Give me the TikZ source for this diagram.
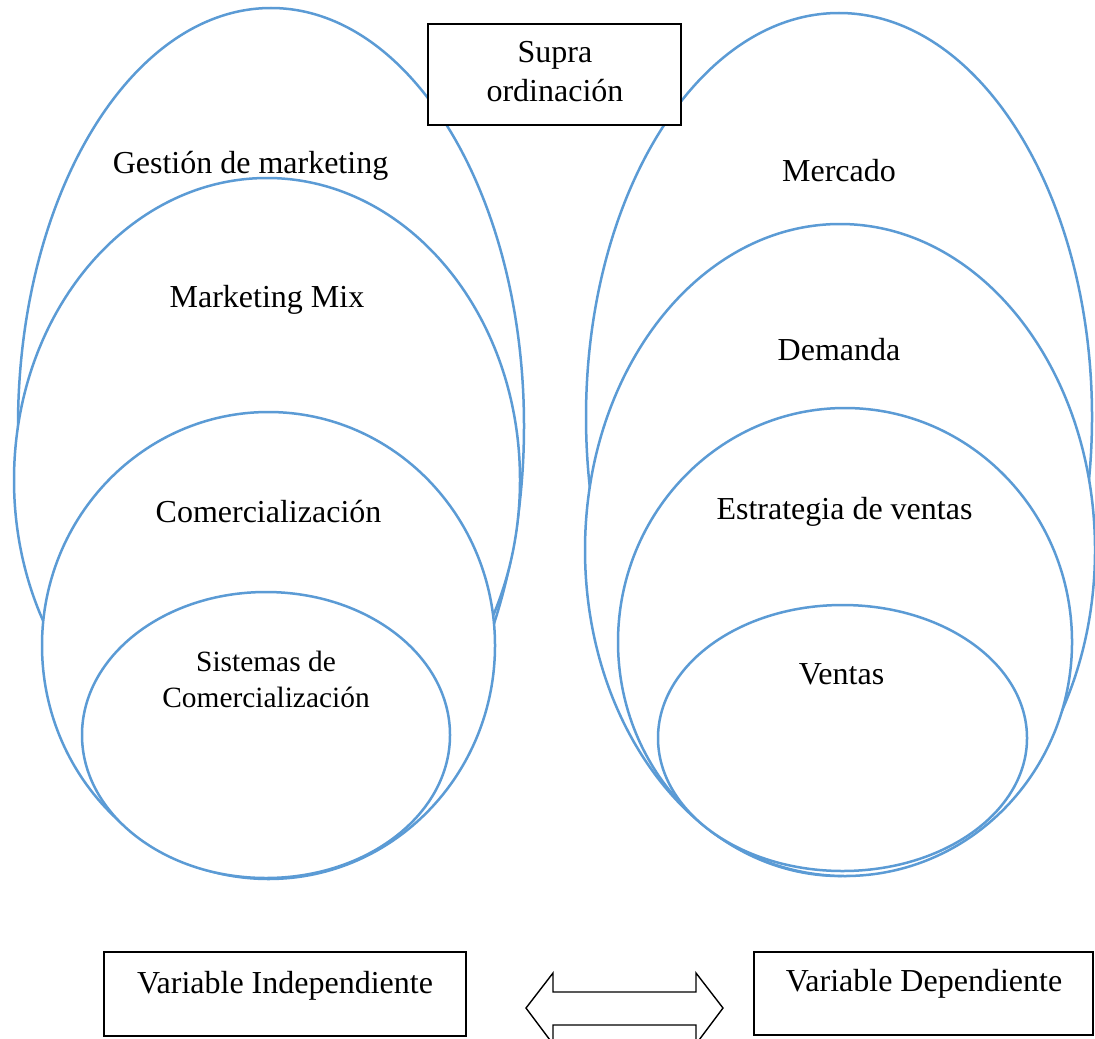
\documentclass[tikz,border=0pt]{standalone}
\usepackage{fontspec}
\setmainfont{Liberation Serif}
\definecolor{ringblue}{HTML}{5B9BD5}
\begin{document}
\begin{tikzpicture}[x=0.5pt,y=-0.5pt,
  ring/.style={draw=ringblue,line width=1.25pt,fill=white},
  lbl/.style={anchor=base,inner sep=0pt,font=\fontsize{16}{20}\selectfont},
  smalllbl/.style={anchor=base,inner sep=0pt,font=\fontsize{14.7}{18}\selectfont},
  frame/.style={draw=black,line width=1pt,fill=white,inner sep=0pt},
  twoway/.style={draw=black,line width=0.7pt,fill=white,line join=miter}]
\useasboundingbox (0,0) rectangle (1095,1038);
\clip (0,0) rectangle (1095,1038);

% independent variable: nested rings, outermost first
\draw[ring] (271,426) ellipse [x radius=253, y radius=418];
\draw[ring] (267,480) ellipse [x radius=253, y radius=302];
\draw[ring] (268.5,645.5) ellipse [x radius=226.5, y radius=233.5];
\draw[ring] (266,735) ellipse [x radius=184, y radius=143];

% dependent variable: nested rings, outermost first
\draw[ring] (839,417) ellipse [x radius=253, y radius=404];
\draw[ring] (840,550) ellipse [x radius=255, y radius=326];
\draw[ring] (845,642) ellipse [x radius=227, y radius=234];
\draw[ring] (842.5,738) ellipse [x radius=184.5, y radius=133];

% ring labels
\node[lbl] (gestion) at (250.5,173) {Gestión de marketing};
\node[lbl] (mix) at (267,307) {Marketing Mix};
\node[lbl] (comer) at (268.5,522) {Comercialización};
\node[smalllbl] (sist1) at (266,671) {Sistemas de};
\node[smalllbl] (sist2) at (266,707) {Comercialización};

\node[lbl] (mercado) at (839,181) {Mercado};
\node[lbl] (demanda) at (839,360) {Demanda};
\node[lbl] (estrategia) at (844.5,519) {Estrategia de ventas};
\node[lbl] (ventas) at (841.5,684) {Ventas};

% title box
\node[frame,minimum width=126.5pt,minimum height=50.5pt] (supra) at (554.5,74.5) {};
\node[lbl] (supra1) at (555,63) {Supra};
\node[lbl] (supra2) at (555,102) {ordinación};

% variable boxes
\node[frame,minimum width=181pt,minimum height=42pt] (indep) at (285,994) {};
\node[lbl] (indeptxt) at (285,993) {Variable Independiente};
\node[frame,minimum width=169.5pt,minimum height=41.5pt] (dep) at (923.5,993) {};
\node[lbl] (deptxt) at (924,991) {Variable Dependiente};

% two-way arrow between the variables
\draw[twoway] (526,1008) -- (553,973) -- (553,992) -- (696,992) -- (696,973)
  -- (723,1008) -- (696,1044) -- (696,1025) -- (553,1025) -- (553,1044) -- cycle;
\end{tikzpicture}
\end{document}
